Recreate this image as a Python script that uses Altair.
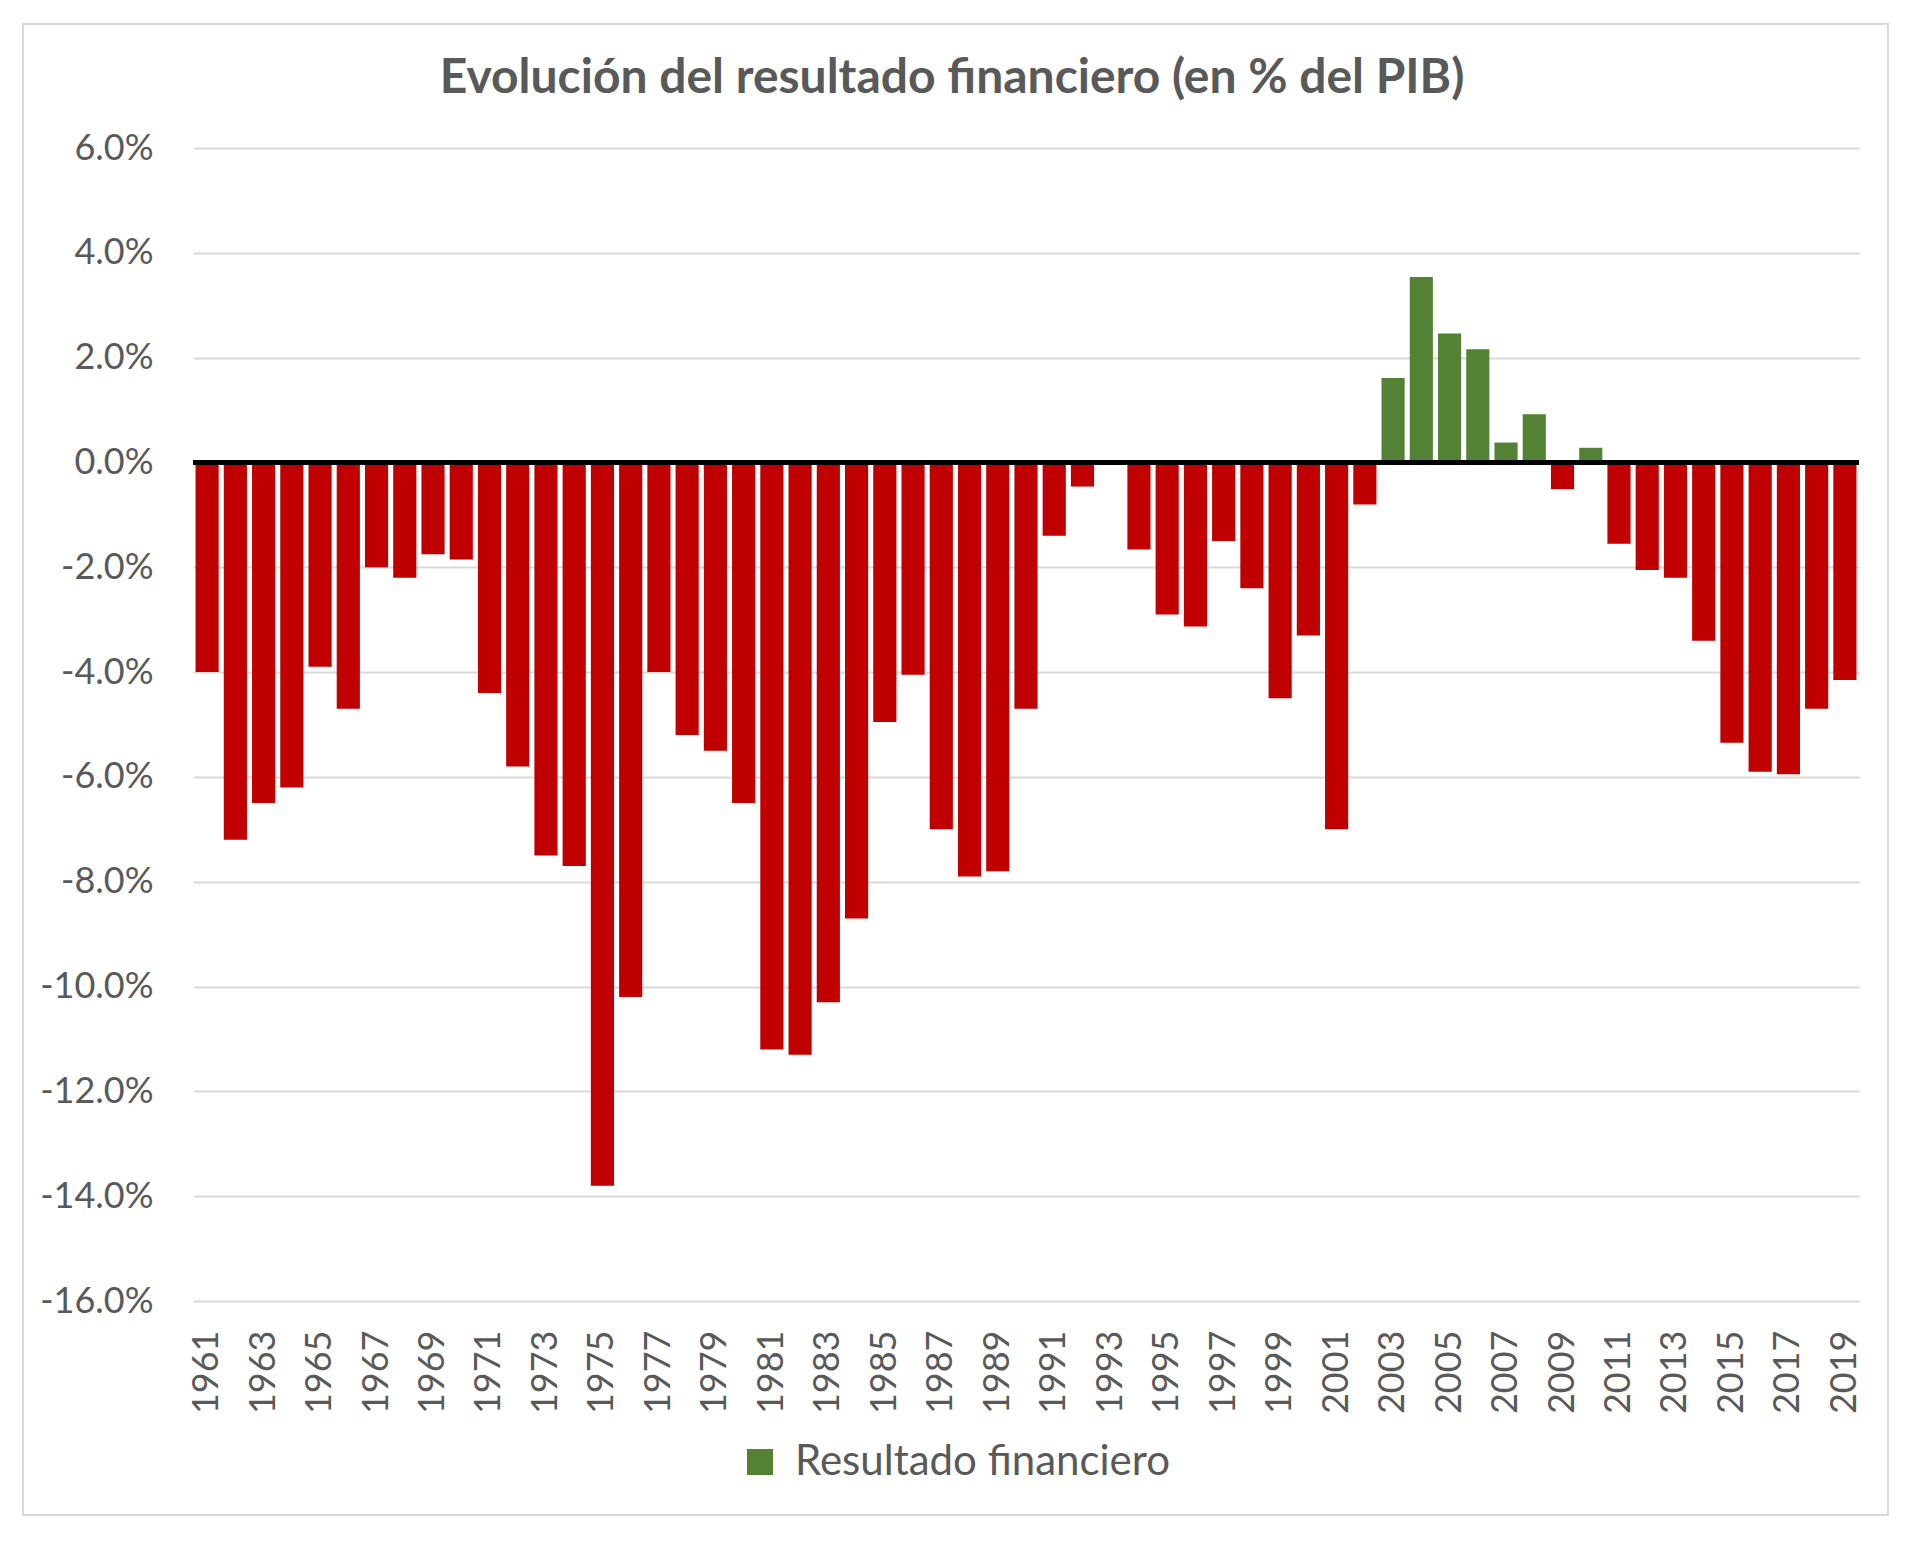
import altair as alt
import pandas as pd

years = list(range(1961, 2020))
resultado = [
    -4.0, -7.2, -6.5, -6.2, -3.9, -4.7, -2.0, -2.2, -1.75, -1.85,
    -4.4, -5.8, -7.5, -7.7, -13.8, -10.2, -4.0, -5.2, -5.5, -6.5,
    -11.2, -11.3, -10.3, -8.7, -4.95, -4.05, -7.0, -7.9, -7.8, -4.7,
    -1.4, -0.46, 0.0, -1.66, -2.9, -3.13, -1.5, -2.4, -4.5, -3.3,
    -7.0, -0.8, 1.61, 3.54, 2.46, 2.16, 0.38, 0.92, -0.51, 0.28,
    -1.55, -2.05, -2.2, -3.4, -5.35, -5.9, -5.95, -4.7, -4.15,
]
serie = "Resultado financiero"
y_ticks = [6, 4, 2, 0, -2, -4, -6, -8, -10, -12, -14, -16]
x_labels = years[::2]

df = pd.DataFrame({"year": years, "value": resultado, "serie": serie})

gray = "#595959"
font = "Lato"

bars = alt.Chart(df).mark_bar().encode(
    alt.X("year:O")
    .scale(paddingInner=0.18, paddingOuter=0.09)
    .axis(values=x_labels, labelAngle=-90, labelFontSize=36, labelColor=gray,
          labelFont=font, labelPadding=29, ticks=False, domain=False, grid=False,
          title=None),
    alt.Y("value:Q")
    .scale(domain=[-16, 6], nice=False, zero=False)
    .axis(values=y_ticks, labelFontSize=36, labelColor=gray, labelFont=font,
          labelPadding=40, ticks=False, domain=False, gridColor="#D9D9D9",
          gridWidth=2, title=None,
          labelExpr="(datum.value < 0 ? '-' : '') + format(abs(datum.value), '.1f') + '%'"),
    color=alt.condition(
        "datum.value > 0",
        alt.Color("serie:N")
        .scale(domain=[serie], range=["#548235"])
        .legend(orient="none", legendX=546, legendY=1293, title=None,
                symbolType="square", symbolSize=676, symbolStrokeWidth=0,
                labelFontSize=42, labelColor=gray, labelFont=font,
                labelOffset=14, labelLimit=0, padding=0),
        alt.value("#C00000"),
    ),
)

zero_line = alt.Chart(df).mark_rule(color="black", strokeWidth=4).encode(
    y=alt.datum(0)
)

frame = alt.Chart(pd.DataFrame({"a": [0]})).mark_rect(
    fillOpacity=0, stroke="#D9D9D9", strokeWidth=2
).encode(
    x=alt.value(-170), x2=alt.value(1695), y=alt.value(-124), y2=alt.value(1367)
)

chart = (bars + zero_line + frame).properties(
    width=1666,
    height=1153,
    autosize="none",
    padding={"left": 185, "top": 140, "right": 50, "bottom": 220},
    title=alt.TitleParams(
        "Evolución del resultado financiero (en % del PIB)",
        fontSize=48, fontWeight="bold", color=gray, font=font,
        anchor="middle", baseline="alphabetic", offset=-118, dx=-74,
    ),
).configure_view(stroke=None)

chart.save("out.html", embed_options={"renderer": "svg", "actions": False})
